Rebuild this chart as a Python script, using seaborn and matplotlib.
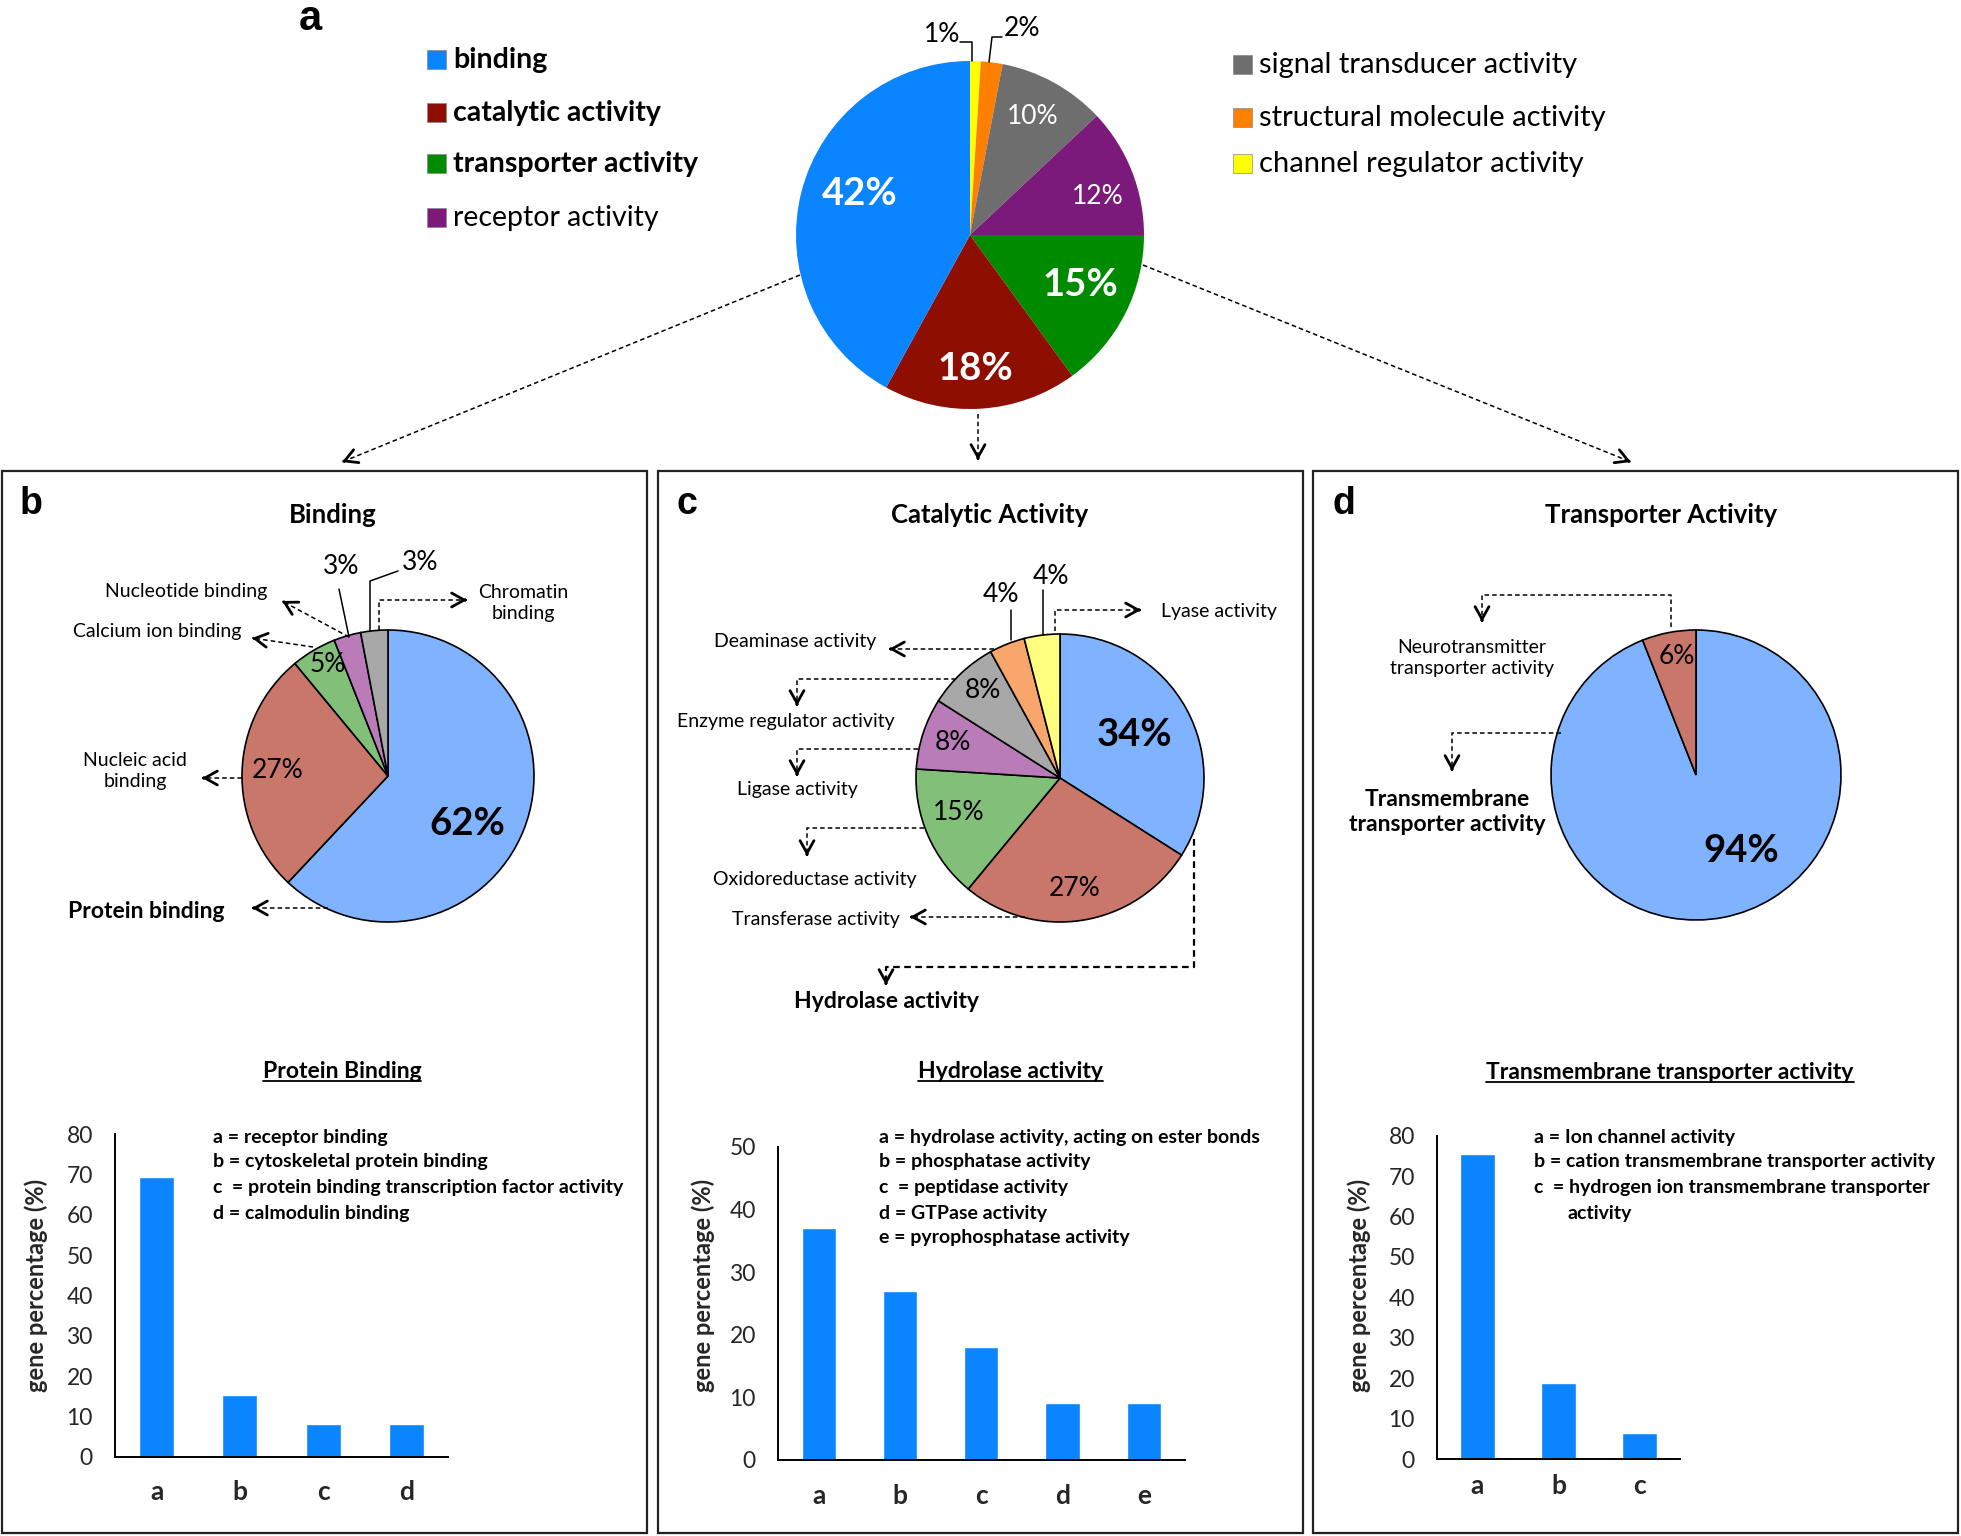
import numpy as np
import matplotlib
matplotlib.use("Agg")
import matplotlib.pyplot as plt
from matplotlib.patches import Rectangle
import seaborn as sns

W, H = 1961, 1536

# -----------------------------
# Data
# -----------------------------
# a: molecular function, wedges clockwise from 12 o'clock
mf_terms = ["channel regulator activity", "structural molecule activity",
            "signal transducer activity", "receptor activity",
            "transporter activity", "catalytic activity", "binding"]
mf_pct = [1, 2, 10, 12, 15, 18, 42]
mf_colors = ["#FFFF00", "#FF7F00", "#6E6E6E", "#7B1A7B", "#008A00", "#8E0E02", "#0A84FF"]

# b-d: sub categories, clockwise from 12 o'clock
binding_terms = ["Protein binding", "Nucleic acid\nbinding", "Calcium ion binding",
                 "Nucleotide binding", "Chromatin\nbinding"]
binding_pct = [62, 27, 5, 3, 3]

catalytic_terms = ["Hydrolase activity", "Transferase activity", "Oxidoreductase activity",
                   "Ligase activity", "Enzyme regulator activity", "Deaminase activity",
                   "Lyase activity"]
catalytic_pct = [34, 27, 15, 8, 8, 4, 4]

transporter_terms = ["Transmembrane\ntransporter activity",
                     "Neurotransmitter\ntransporter activity"]
transporter_pct = [94, 6]

sub_colors = ["#80B3FF", "#C8776A", "#82C07A", "#B97CB9", "#A8A8A8", "#F9A66C", "#FFFF80"]

# bar charts
protein_keys = ["a", "b", "c", "d"]
protein_vals = [69.3, 15.3, 8.0, 8.0]
protein_desc = ["a = receptor binding", "b = cytoskeletal protein binding",
                "c  = protein binding transcription factor activity", "d = calmodulin binding"]

hydrolase_keys = ["a", "b", "c", "d", "e"]
hydrolase_vals = [37.0, 27.0, 18.0, 9.1, 9.1]
hydrolase_desc = ["a = hydrolase activity, acting on ester bonds", "b = phosphatase activity",
                  "c  = peptidase activity", "d = GTPase activity", "e = pyrophosphatase activity"]

tm_keys = ["a", "b", "c"]
tm_vals = [75.4, 18.8, 6.4]
tm_desc = ["a = Ion channel activity", "b = cation transmembrane transporter activity",
           "c  = hydrogen ion transmembrane transporter"]

bar_color = "#0A84FF"

# -----------------------------
# Style
# -----------------------------
sns.set_style("white")
plt.rcParams["font.family"] = ["Lato", "DejaVu Sans"]
plt.rcParams["axes.linewidth"] = 1.4

fig = plt.figure(figsize=(W / 100, H / 100), dpi=100)

# overlay in pixel coordinates for boxes, arrows and labels
ov = fig.add_axes([0, 0, 1, 1])
ov.set_xlim(0, W)
ov.set_ylim(H, 0)
ov.axis("off")
ov.set_zorder(10)

LBL = 14          # small pie labels
LBL_B = 16.5      # bold pie labels
PCT = 19          # normal percentages
PCT_B = 27.5      # big bold percentages


def txt(x, y, s, size, weight="normal", color="black", ha="center", va="center", **kw):
    return ov.text(x, y, s, fontsize=size, fontweight=weight, color=color,
                   ha=ha, va=va, **kw)


def dashed_arrow(pts, lw=1.1):
    xs, ys = zip(*pts)
    ov.plot(xs, ys, color="black", lw=lw, ls=(0, (3, 2)))
    (x0, y0), (x1, y1) = pts[-2], pts[-1]
    d = np.array([x1 - x0, y1 - y0], float)
    d /= np.hypot(*d)
    ov.annotate("", xy=(x1, y1), xytext=(x1 - 2 * d[0], y1 - 2 * d[1]),
                arrowprops=dict(arrowstyle="->,head_length=0.9,head_width=0.5",
                                lw=2.0, color="black", shrinkA=0, shrinkB=0))


def leader(pts):
    xs, ys = zip(*pts)
    ov.plot(xs, ys, color="black", lw=1.1)


def pie_axes(cx, cy, r, pad=1.03):
    rr = r * pad
    ax = fig.add_axes([(cx - rr) / W, 1 - (cy + rr) / H, 2 * rr / W, 2 * rr / H])
    ax.set_facecolor("none")
    return ax


def draw_pie(ax, vals, colors, edge="black", lw=1.2, pad=1.03):
    ax.pie(vals, colors=colors, startangle=90, counterclock=False,
           wedgeprops=dict(edgecolor=edge, linewidth=lw))
    ax.set_xlim(-pad, pad)
    ax.set_ylim(-pad, pad)
    ax.set_aspect("equal")


def bar_panel(x0, x1, ytop, ybot, keys, vals, ymax, label_x, xpad):
    ax = fig.add_axes([x0 / W, 1 - ybot / H, (x1 - x0) / W, (ybot - ytop) / H])
    sns.barplot(x=keys, y=vals, ax=ax, color=bar_color, saturation=1, width=0.42)
    n = len(keys)
    ax.set_xlim(-0.5, n - 0.5)
    ax.set_ylim(0, ymax)
    ax.set_yticks(np.arange(0, ymax + 1, 10))
    ax.set_xticks(np.arange(n + 1) - 0.5)
    ax.set_xticklabels([])
    ax.set_xticks(np.arange(n), minor=True)
    ax.set_xticklabels(keys, minor=True, fontsize=19, fontweight="bold")
    ax.tick_params(axis="x", which="major", direction="out", length=10, width=1.4, color="black")
    ax.tick_params(axis="x", which="minor", length=0, pad=xpad)
    ax.tick_params(axis="y", direction="out", length=7, width=1.4, color="black",
                   labelsize=16.5, pad=9)
    sns.despine(ax=ax)
    for s in ("left", "bottom"):
        ax.spines[s].set_color("black")
    ax.set_ylabel("gene percentage (%)", fontsize=17, fontweight="bold")
    ax.yaxis.set_label_coords((label_x - x0) / (x1 - x0), (ybot - 1285) / (ybot - ytop))
    ax.yaxis.label.set_verticalalignment("center")
    return ax


# -----------------------------
# a: top pie
# -----------------------------
ax_a = pie_axes(970, 235, 174)
draw_pie(ax_a, mf_pct, mf_colors, edge="none", lw=0)

txt(299, 30, "a", 30, "bold", ha="left", va="baseline", family="Liberation Sans")
for i, (idx, y) in enumerate(zip([6, 5, 4, 3], [59, 112, 163, 217])):
    ov.add_patch(Rectangle((427, y - 9.5), 19, 19, facecolor=mf_colors[idx],
                           edgecolor="#888888", lw=0.5))
    txt(453, y + 1, mf_terms[idx], 20.5, "bold" if i < 3 else "normal", ha="left")
for idx, y in zip([2, 1, 0], [64, 117, 163]):
    ov.add_patch(Rectangle((1233, y - 9.5), 19, 19, facecolor=mf_colors[idx],
                           edgecolor="#888888", lw=0.5))
    txt(1259, y + 1, mf_terms[idx], 21, ha="left")

txt(860, 194, f"{mf_pct[6]}%", PCT_B, "bold", "white")
txt(975, 369, f"{mf_pct[5]}%", PCT_B, "bold", "white")
txt(1080, 285, f"{mf_pct[4]}%", PCT_B, "bold", "white")
txt(1098, 196, f"{mf_pct[3]}%", PCT, color="white")
txt(1033, 117, f"{mf_pct[2]}%", PCT, color="white")
txt(942, 35, f"{mf_pct[0]}%", PCT)
txt(1022, 28, f"{mf_pct[1]}%", PCT)
leader([(960, 42), (972, 42), (972, 61)])
leader([(1002, 37), (992, 37), (989, 62)])

dashed_arrow([(800, 275), (342, 462)])
dashed_arrow([(978, 414), (978, 460)])
dashed_arrow([(1143, 265), (1631, 462)])

# panel boxes
for bx0, bx1 in [(2, 647), (658, 1303), (1313, 1958)]:
    ov.add_patch(Rectangle((bx0, 471), bx1 - bx0, 1533 - 471, facecolor="none",
                           edgecolor="#222222", lw=1.6))

# -----------------------------
# b: binding
# -----------------------------
ax_b = pie_axes(388, 776, 146)
draw_pie(ax_b, binding_pct, sub_colors[:5])
txt(20, 514, "b", 27, "bold", ha="left", va="baseline", family="Liberation Sans")
txt(333, 523, "Binding", 18.5, "bold", va="baseline")
txt(467, 824, f"{binding_pct[0]}%", PCT_B, "bold")
txt(278, 771, f"{binding_pct[1]}%", PCT)
txt(328, 665, f"{binding_pct[2]}%", PCT)
txt(341, 567, f"{binding_pct[3]}%", PCT)
txt(420, 562, f"{binding_pct[4]}%", PCT)
leader([(349, 637), (339, 589)])
leader([(370, 631), (370, 581), (398, 571)])

txt(146, 911, binding_terms[0], LBL_B, "bold")
txt(135, 771, binding_terms[1], LBL, linespacing=1.25)
txt(157, 631, binding_terms[2], LBL)
txt(186, 591, binding_terms[3], LBL)
txt(523, 603, binding_terms[4], LBL, linespacing=1.25)
dashed_arrow([(328, 908), (252, 908)])
dashed_arrow([(242, 778), (202, 778)])
dashed_arrow([(313, 647), (252, 638)])
dashed_arrow([(349, 637), (282, 601)])
dashed_arrow([(379, 630), (379, 600), (467, 600)])

# -----------------------------
# c: catalytic activity
# -----------------------------
ax_c = pie_axes(1060, 778, 144)
draw_pie(ax_c, catalytic_pct, sub_colors)
txt(676, 514, "c", 27, "bold", ha="left", va="baseline", family="Liberation Sans")
txt(990, 523, "Catalytic Activity", 18.5, "bold", va="baseline")
txt(1135, 735, f"{catalytic_pct[0]}%", PCT_B, "bold")
txt(1075, 889, f"{catalytic_pct[1]}%", PCT)
txt(959, 812, f"{catalytic_pct[2]}%", PCT)
txt(953, 742, f"{catalytic_pct[3]}%", PCT)
txt(983, 690, f"{catalytic_pct[4]}%", PCT)
txt(1001, 594, f"{catalytic_pct[5]}%", PCT)
txt(1051, 576, f"{catalytic_pct[6]}%", PCT)
leader([(1011, 640), (1011, 610)])
leader([(1043, 635), (1043, 590)])

txt(886, 1001, catalytic_terms[0], LBL_B, "bold")
txt(816, 919, catalytic_terms[1], LBL)
txt(815, 880, catalytic_terms[2], LBL)
txt(797, 790, catalytic_terms[3], LBL)
txt(786, 721, catalytic_terms[4], LBL)
txt(795, 641, catalytic_terms[5], LBL)
txt(1219, 612, catalytic_terms[6], LBL)
dashed_arrow([(1194, 839), (1194, 967), (886, 967), (886, 985)], lw=1.6)
dashed_arrow([(1025, 917), (910, 917)])
dashed_arrow([(924, 828), (807, 828), (807, 856)])
dashed_arrow([(918, 749), (797, 749), (797, 776)])
dashed_arrow([(956, 679), (797, 679), (797, 706)])
dashed_arrow([(994, 649), (889, 649)])
dashed_arrow([(1055, 631), (1055, 610), (1141, 610)])

# -----------------------------
# d: transporter activity
# -----------------------------
ax_d = pie_axes(1696, 775, 145)
draw_pie(ax_d, transporter_pct, sub_colors[:2])
txt(1333, 514, "d", 27, "bold", ha="left", va="baseline", family="Liberation Sans")
txt(1661, 523, "Transporter Activity", 18.5, "bold", va="baseline")
txt(1741, 851, f"{transporter_pct[0]}%", PCT_B, "bold")
txt(1677, 656, f"{transporter_pct[1]}%", PCT)
txt(1447, 812, transporter_terms[0], LBL_B, "bold", linespacing=1.2)
txt(1472, 658, transporter_terms[1], LBL, linespacing=1.25)
dashed_arrow([(1561, 733), (1452, 733), (1452, 771)])
dashed_arrow([(1671, 627), (1671, 595), (1482, 595), (1482, 622)])

# -----------------------------
# bar charts
# -----------------------------
bar_panel(115, 448, 1134.3, 1456.7, protein_keys, protein_vals, 80, 36, 17)
bar_panel(778, 1184.5, 1146.7, 1460, hydrolase_keys, hydrolase_vals, 50, 703, 17)
bar_panel(1437, 1680, 1135.7, 1459, tm_keys, tm_vals, 80, 1359, 11)

titles = [txt(342, 1078, "Protein Binding", 16.5, "bold", va="baseline"),
          txt(1010, 1078, "Hydrolase activity", 16.5, "bold", va="baseline"),
          txt(1670, 1079, "Transmembrane transporter activity", 16.5, "bold", va="baseline")]

rows = [1138, 1162, 1187, 1213, 1237]
for x, desc in [(213, protein_desc), (879, hydrolase_desc), (1534, tm_desc)]:
    for y, s in zip(rows, desc):
        txt(x, y, s, 14, "bold", ha="left")
txt(1568, 1213, "activity", 14, "bold", ha="left")

# underline the bar chart titles
fig.canvas.draw()
renderer = fig.canvas.get_renderer()
for t in titles:
    bb = t.get_window_extent(renderer)
    x0 = bb.x0 * W / fig.bbox.width
    x1 = bb.x1 * W / fig.bbox.width
    y = t.get_position()[1] + 3
    ov.plot([x0, x1], [y, y], color="black", lw=1.3)

fig.savefig("out.png", dpi=100, facecolor="white")
